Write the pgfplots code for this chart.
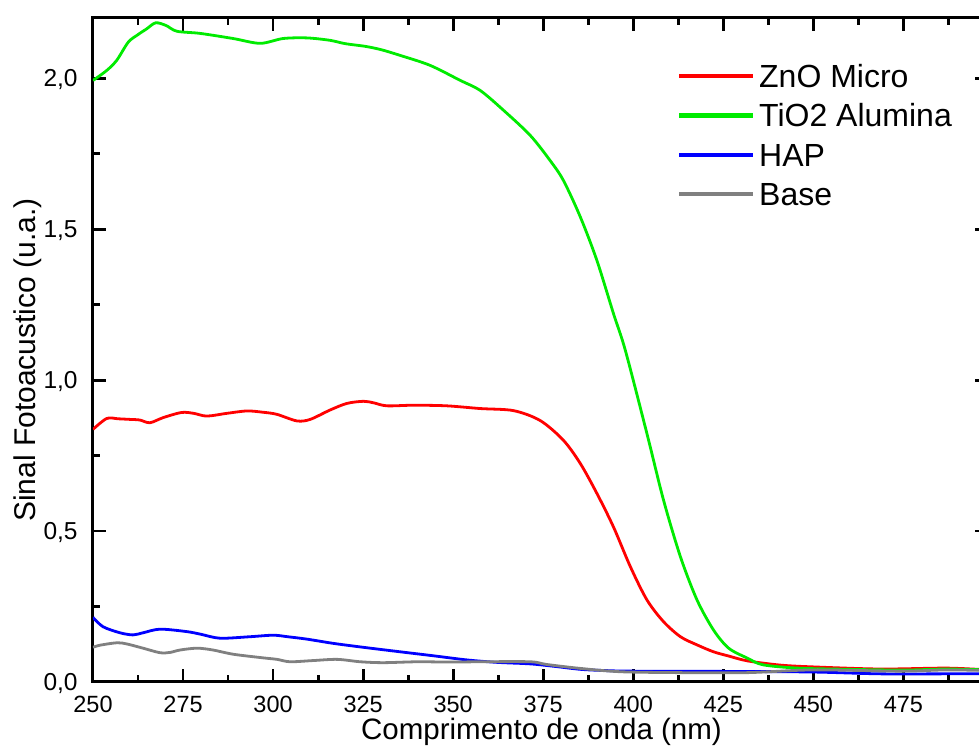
\documentclass[border=0pt]{standalone}
\usepackage{pgfplots}
\pgfplotsset{compat=1.18}
\usepackage{fontspec}
\setmainfont{Liberation Sans}
\definecolor{cRed}{RGB}{255,0,0}
\definecolor{cGreen}{RGB}{0,235,0}
\definecolor{cBlue}{RGB}{0,0,255}
\definecolor{cGray}{RGB}{128,128,128}
\pgfplotsset{
  mylegimg/.style={legend image code/.code={\draw[##1,line width=2.1pt] (0pt,0pt) -- (37pt,0pt);}},
}
\begin{document}
\begin{tikzpicture}
\begin{axis}[
  at={(0,0)}, anchor=south west,
  scale only axis, width=447.5pt, height=332pt,
  xmin=250, xmax=498.5, ymin=0, ymax=2.2,
  xtick={250,275,300,325,350,375,400,425,450,475},
  minor xtick={262.5,287.5,312.5,337.5,362.5,387.5,412.5,437.5,462.5,487.5},
  ytick={0,0.5,1,1.5,2},
  minor ytick={0.25,0.75,1.25,1.75},
  tick align=inside,
  major tick length=6.5pt, minor tick length=3.5pt,
  every tick/.style={line width=1.4pt, black},
  axis line style={line width=1.5pt},
  /pgf/number format/assume math mode=true,
  xticklabel style={font=\fontsize{11.75}{13}\selectfont, inner sep=0pt, yshift=-7pt,
    /pgf/number format/.cd, fixed, precision=0},
  yticklabel style={font=\fontsize{12.25}{14}\selectfont, inner sep=0pt, xshift=-7.5pt, text depth=0pt,
    /pgf/number format/.cd, fixed, fixed zerofill, precision=1, use comma},
  xlabel={Comprimento de onda (nm)},
  ylabel={Sinal Fotoacustico (u.a.)},
  xlabel style={font=\fontsize{14.75}{16}\selectfont, at={(axis description cs:0.5011,-0.0873)}, anchor=base, inner sep=0pt},
  ylabel style={font=\fontsize{15}{18}\selectfont, at={(axis description cs:-0.0726,0.4849)}, anchor=center, inner sep=0pt},
  legend style={draw=none, fill=none, at={(axis description cs:0.6525,0.9364)}, anchor=north west,
    inner sep=0pt, outer sep=0pt, row sep=3.9pt, column sep=2pt,
    font=\fontsize{16}{18}\selectfont,
    nodes={inner sep=0pt, text height=13.6pt, text depth=2.2pt}},
  legend cell align=left,
  mylegimg,
  every axis plot/.append style={line width=1.4pt},
]
\addplot[cRed, smooth] table {
250 0.837
253.8 0.873
257 0.872
260.3 0.870
263 0.868
265.8 0.859
269.5 0.876
274.6 0.893
278 0.890
281.6 0.881
287.1 0.890
292.7 0.898
297 0.894
301 0.887
306.6 0.865
310.3 0.870
315.8 0.901
320.5 0.923
325.1 0.930
327.9 0.925
331.6 0.915
339 0.917
348.2 0.915
357.5 0.906
366.8 0.899
374.2 0.866
380.6 0.801
385.3 0.724
389.9 0.625
394.5 0.514
399.2 0.382
403.8 0.272
408.4 0.200
413.1 0.150
417.7 0.123
422.3 0.100
426.5 0.086
431.7 0.070
440.8 0.056
450 0.050
468.6 0.043
487 0.046
498.5 0.040
};
\addlegendentry{ZnO Micro}
\addplot[cGreen, smooth] table {
250 1.993
253.8 2.026
256.6 2.060
259.8 2.120
262.5 2.145
264.9 2.164
267.4 2.184
270.3 2.175
273.3 2.156
279.7 2.149
288.9 2.132
296.4 2.116
302.8 2.132
309.4 2.134
315.8 2.126
320 2.115
325.6 2.106
330 2.095
335.3 2.076
343.6 2.043
352 1.993
357.5 1.960
364 1.894
371.4 1.811
376.9 1.728
380.6 1.662
385.3 1.541
389.9 1.397
394.5 1.221
397.8 1.099
403.8 0.823
408.4 0.603
413.1 0.415
417.7 0.272
422.3 0.172
426.5 0.112
431.7 0.079
436 0.057
445.6 0.046
459.4 0.042
470 0.040
477.8 0.040
487 0.043
498.5 0.040
};
\addlegendentry{TiO2 Alumina}
\addplot[cBlue, smooth] table {
250 0.214
252.8 0.183
257.5 0.163
261.1 0.156
263.9 0.163
268.6 0.175
276 0.167
280 0.158
285.3 0.145
293.6 0.150
300 0.155
304 0.150
309.4 0.142
316.7 0.128
325 0.115
335.3 0.100
344.4 0.087
353.9 0.073
362.2 0.065
371.4 0.060
378 0.052
385.3 0.042
392 0.038
399.2 0.036
427 0.035
450 0.033
468.6 0.027
487 0.027
498.5 0.027
};
\addlegendentry{HAP}
\addplot[cGray, smooth] table {
250 0.115
252 0.122
256.7 0.130
259.4 0.126
263.9 0.112
268.6 0.097
271.4 0.098
274.2 0.106
278.9 0.112
283.3 0.106
288.9 0.092
297.2 0.080
301.1 0.075
304.7 0.067
311.1 0.071
317.8 0.075
324.2 0.067
330.6 0.064
340 0.067
349.2 0.066
357.5 0.067
371.4 0.067
376 0.058
385.3 0.045
396.4 0.034
413 0.031
431.7 0.031
450 0.040
474 0.036
487 0.040
498.5 0.038
};
\addlegendentry{Base}
\end{axis}
\pgfresetboundingbox
\useasboundingbox (-46.5pt,-32.5pt) rectangle (443pt,341pt);
\end{tikzpicture}
\end{document}
